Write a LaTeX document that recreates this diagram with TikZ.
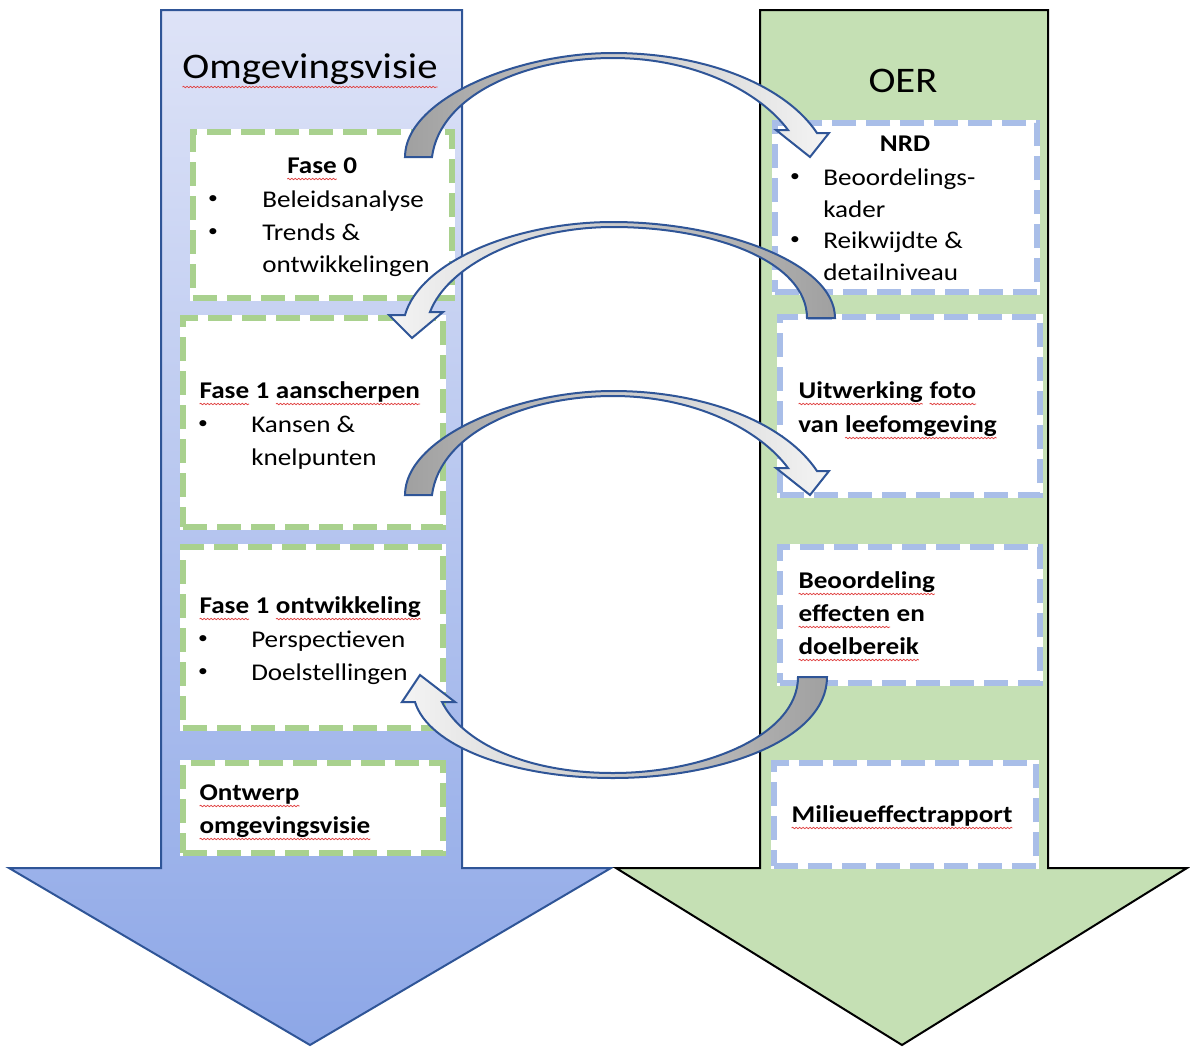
\documentclass[tikz,border=0pt]{standalone}
\usepackage{fontspec}
\setmainfont{Carlito}[FakeStretch=1.13]
\usetikzlibrary{decorations.pathmorphing}
\definecolor{lavtop}{HTML}{DEE3F7}
\definecolor{lavbot}{HTML}{8DA7E7}
\definecolor{navy}{HTML}{2F5597}
\definecolor{oergreen}{HTML}{C5E0B4}
\definecolor{dgreen}{HTML}{A9D18E}
\definecolor{dblue}{HTML}{A9BEE8}
\definecolor{arrgray}{HTML}{A0A0A0}
\definecolor{arrlight}{HTML}{F4F4F4}
\definecolor{spellred}{HTML}{E04040}
\newcommand\spl[1]{\tikz[baseline=(w.base)]{\node[inner sep=0pt,outer sep=0pt](w){#1};\draw[spellred,line width=0.55pt,decorate,decoration={snake,amplitude=0.55pt,segment length=2.6pt}]([yshift=-0.25em]w.base west)--([yshift=-0.25em]w.base east);}}
\tikzset{
  gbox/.style={fill=white, preaction={draw=white, solid, line width=4.5pt}, draw=dgreen, line width=4.5pt, dash pattern=on 18pt off 7.5pt, anchor=north west, inner sep=0pt, outer sep=0pt},
  bbox/.style={gbox, draw=dblue},
  carrow/.style={draw=navy, line width=1.5pt},
  t/.style={anchor=base west, inner sep=0pt, font=\fontsize{18}{22}\selectfont},
  tb/.style={t, font=\fontsize{18}{22}\selectfont\bfseries},
  bul/.style={anchor=center, inner sep=0pt, font=\fontsize{13}{15}\selectfont},
  hd/.style={anchor=base, inner sep=0pt, font=\fontsize{27}{32}\selectfont}
}
\begin{document}
\begin{tikzpicture}[x=0.75pt,y=-0.75pt]
\useasboundingbox (0,0) rectangle (1190,1047);
% big arrows
\draw[navy, line width=1.5pt, top color=lavtop, bottom color=lavbot]
  (161,10) -- (462,10) -- (462,868) -- (611,868) -- (310,1045) -- (9,868) -- (161,868) -- cycle;
\draw[black, line width=1.5pt, fill=oergreen]
  (760,10) -- (1048,10) -- (1048,868) -- (1187,868) -- (902,1045) -- (616,868) -- (760,868) -- cycle;
% boxes
\node (bL0) [gbox, minimum width=259*0.75pt, minimum height=166*0.75pt] at (193,132) {};
\node (bL1) [gbox, minimum width=260*0.75pt, minimum height=209*0.75pt] at (183,318) {};
\node (bL2) [gbox, minimum width=260*0.75pt, minimum height=181*0.75pt] at (183,547) {};
\node (bL3) [gbox, minimum width=260*0.75pt, minimum height=90*0.75pt] at (183,763) {};
\node (bR0) [bbox, minimum width=262*0.75pt, minimum height=169*0.75pt] at (775,123) {};
\node (bR1) [bbox, minimum width=260*0.75pt, minimum height=178*0.75pt] at (780,317) {};
\node (bR2) [bbox, minimum width=260*0.75pt, minimum height=136*0.75pt] at (780,547) {};
\node (bR3) [bbox, minimum width=262*0.75pt, minimum height=103*0.75pt] at (774,763) {};
% headings
\node (hOV) [hd] at (310,78) {\spl{Omgevingsvisie}};
\node (hOER) [hd] at (903,92) {OER};
% left texts
\node (l0a) [tb, anchor=base] at (322,173) {\spl{Fase} 0};
\node (l0b1) [bul] at (213,200) {•};
\node (l0b) [t] at (262,207) {Beleidsanalyse};
\node (l0c1) [bul] at (213,233) {•};
\node (l0c) [t] at (262,240) {Trends \&};
\node (l0d) [t] at (262,272) {ontwikkelingen};
\node (l1a) [tb] at (199,398) {\spl{Fase} 1 \spl{aanscherpen}};
\node (l1b1) [bul] at (203,425) {•};
\node (l1b) [t] at (251,432) {Kansen \&};
\node (l1c) [t] at (251,465) {knelpunten};
\node (l2a) [tb] at (199,613) {\spl{Fase} 1 \spl{ontwikkeling}};
\node (l2b1) [bul] at (203,640) {•};
\node (l2b) [t] at (251,647) {Perspectieven};
\node (l2c1) [bul] at (203,673) {•};
\node (l2c) [t] at (251,680) {Doelstellingen};
\node (l3a) [tb] at (199,800) {\spl{Ontwerp}};
\node (l3b) [tb] at (199,833) {\spl{omgevingsvisie}};
% right texts
\node (r0a) [tb, anchor=base] at (905,151) {NRD};
\node (r0b1) [bul] at (795,178) {•};
\node (r0b) [t] at (823,185) {Beoordelings-};
\node (r0c) [t] at (823,217) {kader};
\node (r0d1) [bul] at (795,241) {•};
\node (r0d) [t] at (823,248) {Reikwijdte \&};
\node (r0e) [t] at (823,280) {detailniveau};
\node (r1a) [tb] at (798,398) {\spl{Uitwerking} \spl{foto}};
\node (r1b) [tb] at (798,432) {van \spl{leefomgeving}};
\node (r2a) [tb] at (798,588) {\spl{Beoordeling}};
\node (r2b) [tb] at (798,621) {\spl{effecten} en};
\node (r2c) [tb] at (798,654) {\spl{doelbereik}};
\node (r3a) [tb] at (791,822) {\spl{Milieueffectrapport}};
% curved arrows
\draw[carrow, left color=arrgray, right color=arrlight]
  (405,157) .. controls (405,100) and (515,53) .. (613,53)
  .. controls (705,53) and (785,85) .. (817,133)
  -- (829,133) -- (810,157) -- (776,130) -- (788,130)
  .. controls (760,92) and (695,58) .. (613,58)
  .. controls (525,58) and (440,95) .. (432,157) -- cycle;
\draw[carrow, left color=arrlight, right color=arrgray]
  (835,318) .. controls (835,262) and (720,222) .. (613,222)
  .. controls (515,222) and (420,262) .. (405,315)
  -- (389,315) -- (412,338) -- (443,312) -- (430,312)
  .. controls (448,265) and (525,227) .. (613,227)
  .. controls (715,227) and (807,262) .. (807,318) -- cycle;
\begin{scope}[shift={(0,338)}]
\draw[carrow, left color=arrgray, right color=arrlight]
  (405,157) .. controls (405,100) and (515,53) .. (613,53)
  .. controls (705,53) and (785,85) .. (817,133)
  -- (829,133) -- (810,157) -- (776,130) -- (788,130)
  .. controls (760,92) and (695,58) .. (613,58)
  .. controls (525,58) and (440,95) .. (432,157) -- cycle;
\end{scope}
\draw[carrow, left color=arrlight, right color=arrgray]
  (827,677) .. controls (827,740) and (720,778) .. (613,778)
  .. controls (510,778) and (428,745) .. (415,702)
  -- (402,702) -- (420,675) -- (455,702) -- (442,702)
  .. controls (462,742) and (525,773) .. (613,773)
  .. controls (705,773) and (798,735) .. (798,677) -- cycle;
\end{tikzpicture}
\end{document}
